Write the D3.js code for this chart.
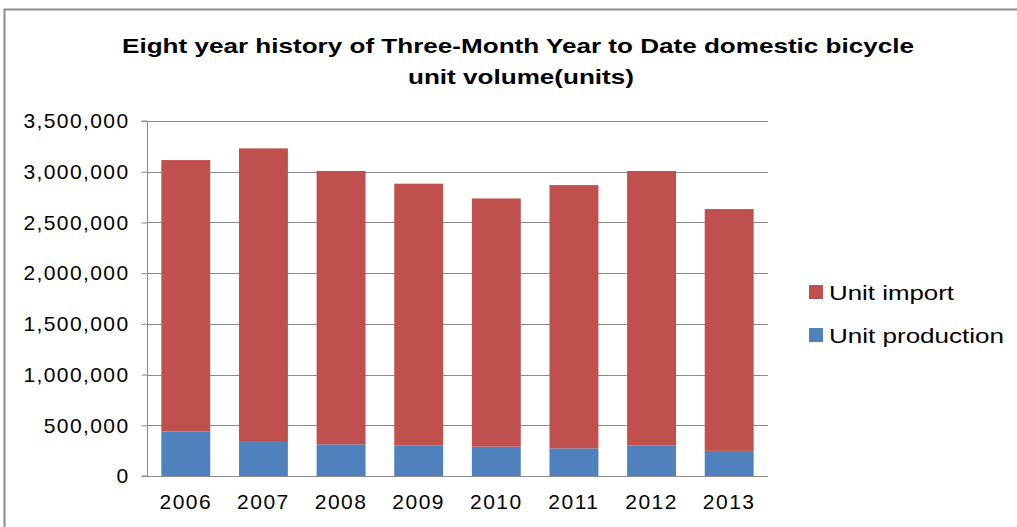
<!DOCTYPE html>
<html>
<head>
<meta charset="utf-8">
<script src="https://cdn.jsdelivr.net/npm/d3@7"></script>
<style>
  body { margin: 0; background: #fff; }
  text { font-family: "Liberation Sans", Arial, sans-serif; }
</style>
</head>
<body>
<svg width="1017" height="527"></svg>
<script>
// data
var years = ['2006', '2007', '2008', '2009', '2010', '2011', '2012', '2013'];
var production = [440000, 336000, 312000, 302000, 289000, 272000, 302000, 248000];
var imports = [2675000, 2894000, 2695000, 2580000, 2447000, 2596000, 2705000, 2384000];
var yTicks = [0, 500000, 1000000, 1500000, 2000000, 2500000, 3000000, 3500000];
var seriesNames = ['Unit import', 'Unit production'];
var seriesColors = ['#C0504D', '#4F81BD'];

var svg = d3.select('svg'),
    width = +svg.attr('width'),
    height = +svg.attr('height');

// outer chart frame (only top and left edges are in view)
svg.append('rect')
    .attr('x', 4.5).attr('y', 9.5)
    .attr('width', 1030).attr('height', 540)
    .attr('fill', 'none')
    .attr('stroke', '#8c8c8c')
    .attr('stroke-width', 2);

var plot = {left: 147, right: 768, top: 121, bottom: 476};

var x = d3.scaleBand()
    .domain(years)
    .range([plot.left, plot.right])
    .paddingInner(0.37)
    .paddingOuter(0.185);

var y = d3.scaleLinear()
    .domain([0, 3500000])
    .range([plot.bottom, plot.top]);

// gridlines
svg.append('g')
    .selectAll('line')
    .data(yTicks.slice(1))
    .enter().append('line')
    .attr('x1', plot.left).attr('x2', plot.right)
    .attr('y1', function(d) { return Math.round(y(d)) + 0.5; })
    .attr('y2', function(d) { return Math.round(y(d)) + 0.5; })
    .attr('stroke', '#8a8a8a')
    .attr('stroke-width', 1);

// stacked bars
var stackData = years.map(function(yr, i) {
    return {year: yr, production: production[i], imports: imports[i]};
});
var stack = d3.stack().keys(['production', 'imports'])(stackData);
var keyColor = {production: seriesColors[1], imports: seriesColors[0]};

svg.append('g')
    .selectAll('g')
    .data(stack)
    .enter().append('g')
    .attr('fill', function(d) { return keyColor[d.key]; })
    .selectAll('rect')
    .data(function(d) { return d; })
    .enter().append('rect')
    .attr('x', function(d) { return x(d.data.year); })
    .attr('width', x.bandwidth())
    .attr('y', function(d) { return y(d[1]); })
    .attr('height', function(d) { return y(d[0]) - y(d[1]); });

// y axis
var yAxis = svg.append('g')
    .attr('transform', 'translate(' + (plot.left + 0.5) + ',0)')
    .call(d3.axisLeft(y).tickValues(yTicks).tickFormat(d3.format(',')).tickSize(6).tickPadding(12));
yAxis.selectAll('line, path').attr('stroke', '#8a8a8a');
yAxis.select('.domain').attr('d', 'M-6,' + plot.top + 'H0V' + plot.bottom + 'H-6');
yAxis.selectAll('text')
    .style('font-size', '21px')
    .style('letter-spacing', '1.4px')
    .attr('fill', '#000')
    .style('font-family', '"Liberation Sans", Arial, sans-serif');

// x axis
var xAxis = svg.append('g')
    .attr('transform', 'translate(0,' + (plot.bottom + 0.5) + ')')
    .call(d3.axisBottom(x).tickSize(0).tickPadding(18));
xAxis.select('.domain').attr('d', 'M' + plot.left + ',0H' + plot.right).attr('stroke', '#8a8a8a');
xAxis.selectAll('text')
    .style('font-size', '21px')
    .style('letter-spacing', '1.5px')
    .attr('fill', '#000')
    .style('font-family', '"Liberation Sans", Arial, sans-serif');

// title
var title = svg.append('text')
    .attr('text-anchor', 'middle')
    .style('font-size', '21px')
    .style('font-weight', 'bold');
title.append('tspan').attr('x', 518).attr('y', 53)
    .attr('textLength', 792).attr('lengthAdjust', 'spacingAndGlyphs')
    .text('Eight year history of Three-Month Year to Date domestic bicycle');
title.append('tspan').attr('x', 521).attr('y', 84)
    .attr('textLength', 226).attr('lengthAdjust', 'spacingAndGlyphs')
    .text('unit  volume(units)');

// legend
var legendWidths = [125, 175];
var legend = svg.append('g')
    .selectAll('g')
    .data(seriesNames)
    .enter().append('g')
    .attr('transform', function(d, i) { return 'translate(809,' + (285 + i * 43) + ')'; });
legend.append('rect')
    .attr('width', 14).attr('height', 14)
    .attr('fill', function(d, i) { return seriesColors[i]; });
legend.append('text')
    .attr('x', 20).attr('y', 15)
    .style('font-size', '21px')
    .attr('textLength', function(d, i) { return legendWidths[i]; })
    .attr('lengthAdjust', 'spacingAndGlyphs')
    .text(function(d) { return d; });
</script>
</body>
</html>
